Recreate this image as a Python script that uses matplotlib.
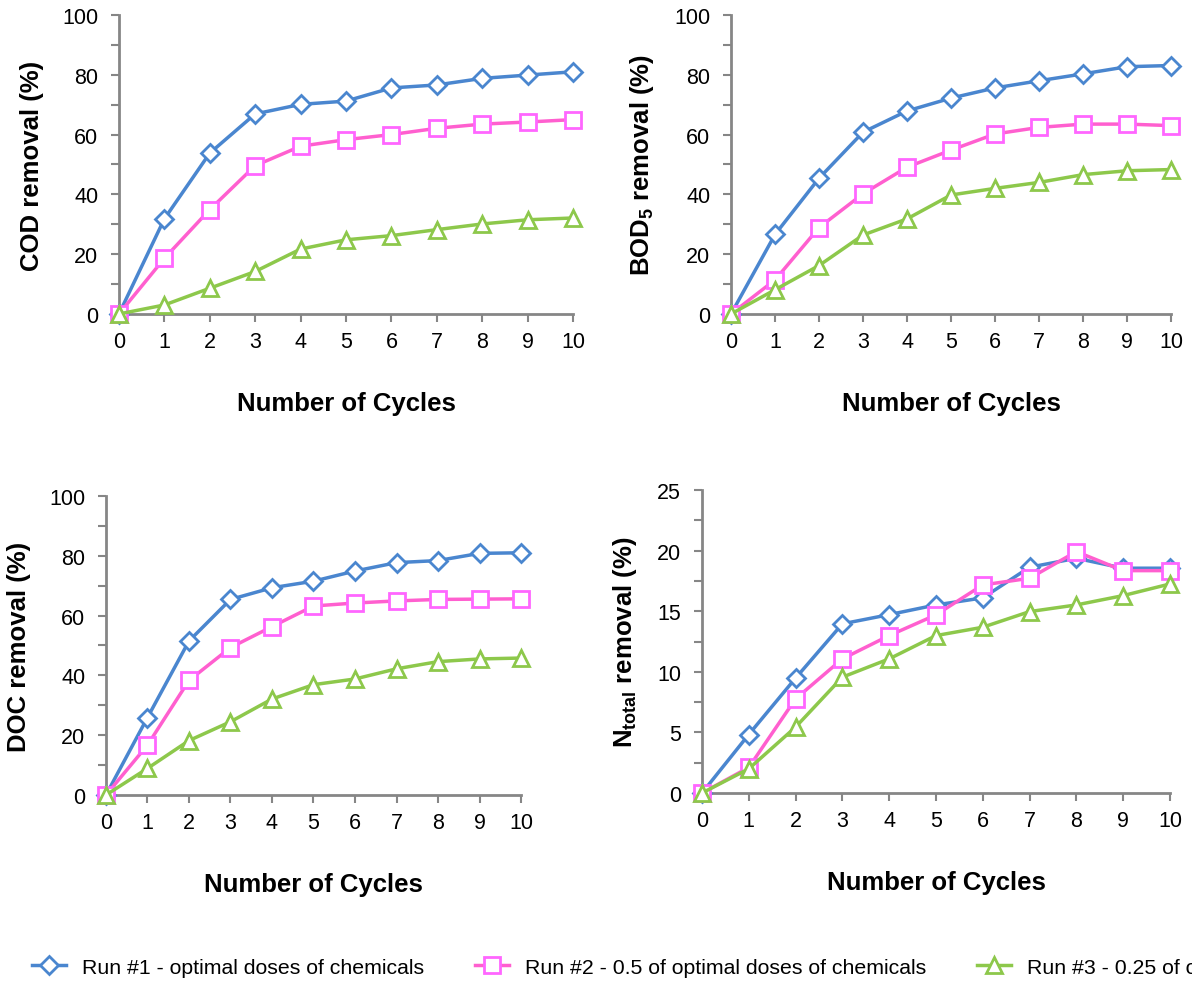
import matplotlib
matplotlib.use('Agg')
import matplotlib.pyplot as plt
from matplotlib.ticker import MultipleLocator
from matplotlib.lines import Line2D

plt.rcParams['font.family'] = ['Liberation Sans', 'DejaVu Sans']
plt.rcParams['mathtext.fontset'] = 'custom'
plt.rcParams['mathtext.rm'] = 'Liberation Sans'
plt.rcParams['mathtext.bf'] = 'Liberation Sans:bold'

cycles = list(range(11))

cod_run1 = [0, 31.8, 53.8, 66.9, 70.1, 71.2, 75.6, 76.6, 78.8, 79.9, 81.0]
cod_run2 = [0, 18.6, 34.9, 49.6, 56.1, 58.3, 60.0, 62.1, 63.5, 64.2, 65.0]
cod_run3 = [0, 3.0, 8.6, 14.2, 21.7, 24.8, 26.2, 28.2, 30.1, 31.5, 32.1]

bod_run1 = [0, 26.6, 45.4, 60.8, 67.9, 72.2, 75.6, 78.0, 80.3, 82.7, 83.1]
bod_run2 = [0, 11.4, 28.9, 40.2, 49.1, 54.8, 60.2, 62.4, 63.5, 63.5, 63.0]
bod_run3 = [0, 8.1, 16.2, 26.4, 31.8, 39.8, 42.0, 44.0, 46.6, 47.9, 48.3]

doc_run1 = [0, 25.9, 51.5, 65.4, 69.3, 71.5, 74.9, 77.7, 78.4, 80.8, 81.0]
doc_run2 = [0, 16.7, 38.3, 49.3, 56.3, 63.2, 64.2, 64.9, 65.4, 65.5, 65.6]
doc_run3 = [0, 8.9, 18.2, 24.5, 32.1, 36.9, 38.8, 42.2, 44.6, 45.5, 45.8]

ntot_run1 = [0, 4.83, 9.48, 13.96, 14.72, 15.52, 16.1, 18.63, 19.37, 18.55, 18.55]
ntot_run2 = [0, 2.11, 7.77, 11.07, 12.99, 14.7, 17.17, 17.72, 19.92, 18.35, 18.35]
ntot_run3 = [0, 2.0, 5.44, 9.56, 11.07, 12.99, 13.68, 14.97, 15.52, 16.29, 17.25]

run_labels = ['Run #1 - optimal doses of chemicals',
              'Run #2 - 0.5 of optimal doses of chemicals',
              'Run #3 - 0.25 of optimal doses of chemicals']

colors = ['#4A86CF', '#FF5FCF', '#8DC84B']
mcolors = ['#4A86CF', '#FF66FF', '#8DC84B']
markers = ['D', 's', '^']
msizes = [9, 12, 12]
gray = '#868686'

fig = plt.figure(figsize=(11.92, 9.87), dpi=100)

panels = [
    ([0.0998, 0.6809, 0.3809, 0.3029], [cod_run1, cod_run2, cod_run3], 100, 20, 10, 'COD removal (%)'),
    ([0.6133, 0.6809, 0.3691, 0.3029], [bod_run1, bod_run2, bod_run3], 100, 20, 10, r'BOD$_\mathbf{5}$ removal (%)'),
    ([0.0889, 0.1935, 0.3482, 0.3030], [doc_run1, doc_run2, doc_run3], 100, 20, 10, 'DOC removal (%)'),
    ([0.5889, 0.1955, 0.3926, 0.3070], [ntot_run1, ntot_run2, ntot_run3], 25, 5, 2.5, r'N$_\mathbf{total}$ removal (%)'),
]

for rect, series, ymax, major, minor, ylabel in panels:
    ax = fig.add_axes(rect)
    for i, ys in enumerate(series):
        ax.plot(cycles, ys, color=colors[i], lw=2.5, marker=markers[i],
                ms=msizes[i], mfc='white', mec=mcolors[i], mew=2,
                clip_on=False, zorder=3)
    ax.set_xlim(0, 10)
    ax.set_ylim(0, ymax)
    ax.xaxis.set_major_locator(MultipleLocator(1))
    ax.yaxis.set_major_locator(MultipleLocator(major))
    ax.yaxis.set_minor_locator(MultipleLocator(minor))
    for s in ['top', 'right']:
        ax.spines[s].set_visible(False)
    for s in ['left', 'bottom']:
        ax.spines[s].set_color(gray)
        ax.spines[s].set_linewidth(2)
    ax.tick_params(which='both', direction='out', length=6, width=1.5, color=gray,
                   labelsize=15.5)
    ax.tick_params(axis='y', pad=9)
    ax.tick_params(axis='x', pad=6)
    ax.set_xlabel('Number of Cycles', fontsize=18.5, fontweight='bold', labelpad=28)
    ax.set_ylabel(ylabel, fontsize=18.5, fontweight='bold', labelpad=13)

handles = [Line2D([], [], color=colors[i], lw=2.5, marker=markers[i],
                  ms=msizes[i], mfc='white', mec=mcolors[i], mew=2) for i in range(3)]
fig.legend(handles, run_labels, loc='center left', bbox_to_anchor=(0.027, 0.019),
           ncol=3, frameon=False, handlelength=1.6, handletextpad=0.75,
           columnspacing=2.4, borderpad=0, borderaxespad=0,
           prop={'size': 15.3})

fig.savefig('out.png', dpi=100)
